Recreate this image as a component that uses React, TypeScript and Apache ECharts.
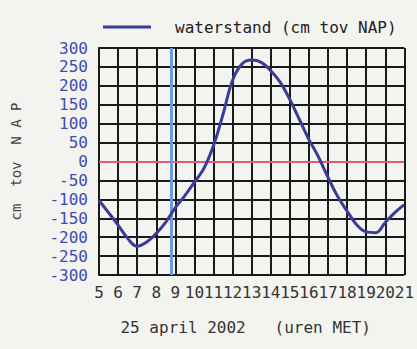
import React, { useEffect, useRef } from "react";
import * as echarts from "echarts";

const hours = [5, 5.5, 6, 6.5, 7, 7.5, 8, 8.5, 9, 9.5, 10, 10.5, 11, 11.5, 12, 12.5, 13, 13.5, 14, 14.5, 15, 15.5, 16, 16.5, 17, 17.5, 18, 18.5, 19, 19.5, 20, 20.5, 21];
const waterstand = [-103, -135, -168, -203, -224, -213, -190, -160, -122, -90, -55, -18, 42, 125, 215, 258, 268, 262, 240, 209, 164, 111, 58, 12, -42, -92, -131, -167, -186, -188, -161, -135, -114];
const nowHour = 8.8;
const seriesName = "waterstand (cm tov NAP)";
const xTitle = "25 april 2002   (uren MET)";
const yTitle = "cm  tov  N A P";

const mono = "DejaVu Sans Mono";

export default function App() {
  const ref = useRef<HTMLDivElement>(null);
  useEffect(() => {
    if (!ref.current) return;
    const chart = echarts.init(ref.current, null, { renderer: "svg" });
    chart.setOption({
      animation: false,
      backgroundColor: "#f3f3f0",
      grid: { left: 99, right: 12, top: 48, bottom: 74, containLabel: false },
      legend: {
        left: 98,
        top: 14,
        icon: "rect",
        itemWidth: 48,
        itemHeight: 3,
        textStyle: { fontFamily: mono, fontSize: 16, color: "#222", padding: [0, 0, 0, 19] },
        data: [seriesName],
      },
      xAxis: {
        type: "value",
        min: 5,
        max: 21,
        interval: 1,
        name: xTitle,
        nameLocation: "middle",
        nameGap: 44,
        nameTextStyle: { fontFamily: mono, fontSize: 16, color: "#333", padding: [0, 12, 0, 0] },
        axisLine: { show: true, lineStyle: { color: "#1a1a1a", width: 2 } },
        axisTick: { show: false },
        axisLabel: { fontFamily: mono, fontSize: 16, color: "#333", margin: 9, hideOverlap: false },
        splitLine: { show: true, lineStyle: { color: "#1a1a1a", width: 2 } },
      },
      yAxis: {
        type: "value",
        min: -300,
        max: 300,
        interval: 50,
        name: yTitle,
        nameLocation: "middle",
        nameGap: 76,
        nameRotate: 90,
        nameTextStyle: { fontFamily: mono, fontSize: 14, color: "#444" },
        axisLine: { show: true, lineStyle: { color: "#1a1a1a", width: 2 } },
        axisTick: { show: false },
        axisLabel: { fontFamily: mono, fontSize: 16, color: "#3c4cb4", margin: 11 },
        splitLine: { show: true, lineStyle: { color: "#1a1a1a", width: 2 } },
      },
      series: [
        {
          name: seriesName,
          type: "line",
          data: hours.map((h, i) => [h, waterstand[i]]),
          smooth: 0.4,
          showSymbol: false,
          color: "#3b3b98",
          lineStyle: { color: "#3b3b98", width: 3 },
          z: 5,
          markLine: {
            silent: true,
            symbol: "none",
            label: { show: false },
            data: [
              { yAxis: 0, lineStyle: { color: "#e8566f", width: 2, type: "solid" } },
              { xAxis: nowHour, lineStyle: { color: "#6d99de", width: 3, type: "solid" } },
            ],
          },
        },
      ],
    });
    return () => chart.dispose();
  }, []);
  return (
    <div
      ref={ref}
      style={{ position: "absolute", left: 0, top: 0, width: 417, height: 349 }}
    />
  );
}
